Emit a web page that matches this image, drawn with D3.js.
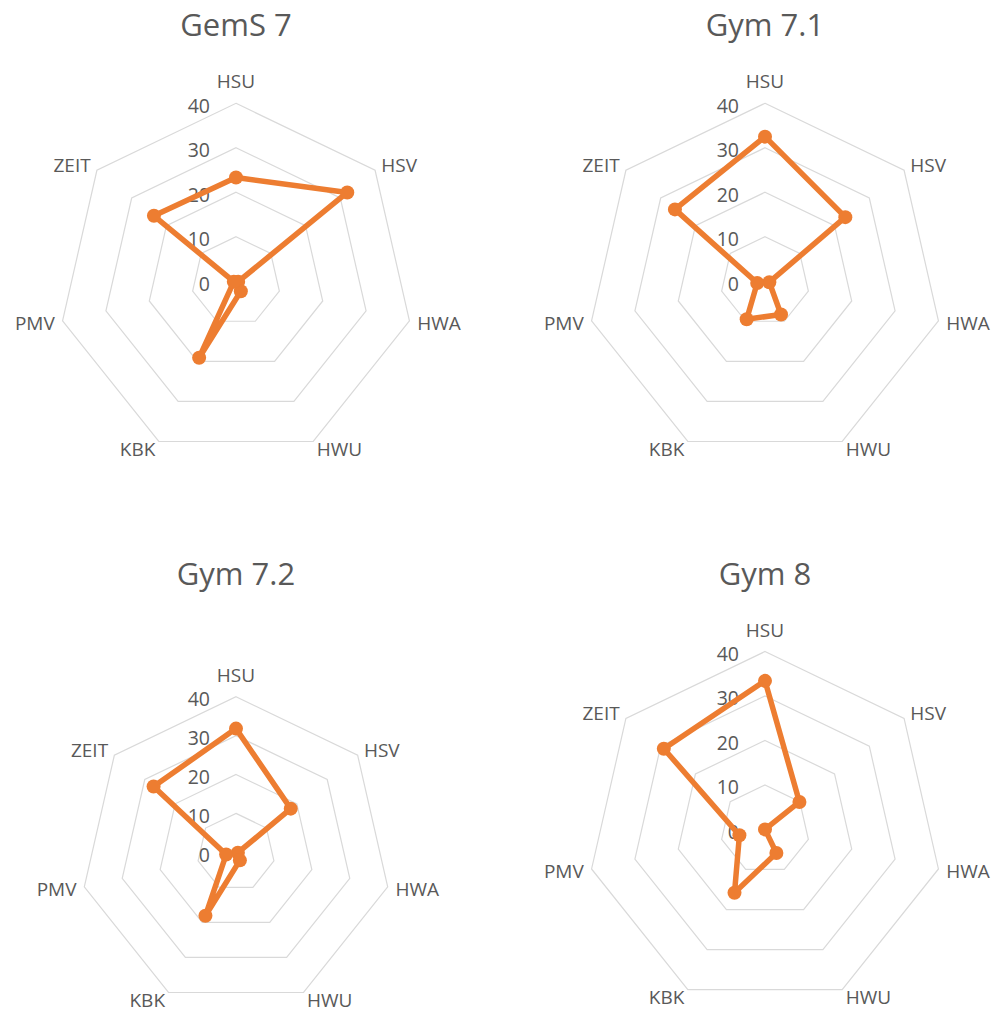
<!DOCTYPE html>
<html>
<head>
<meta charset="utf-8">
<script src="https://cdn.jsdelivr.net/npm/d3@7"></script>
<style>
  html, body { margin: 0; padding: 0; background: #fff; }
  svg { display: block; font-family: "Open Sans", "Noto Sans", sans-serif; }
</style>
</head>
<body>
<svg id="chart" width="1000" height="1012"></svg>
<script>
// Radar categories and value ticks
const axes = ["HSU", "HSV", "HWA", "HWU", "KBK", "PMV", "ZEIT"];
const ticks = [0, 10, 20, 30, 40];
const titles = ["GemS 7", "Gym 7.1", "Gym 7.2", "Gym 8"];

// One series per school type, in axis order
const gems7 = [23.3, 32.0, 0.5, 2.5, 19.1, 0.5, 23.6];
const gym71 = [32.5, 23.1, 1.0, 8.3, 9.5, 1.8, 25.9];
const gym72 = [31.8, 18.0, 0.5, 2.3, 18.1, 2.6, 27.1];
const gym8  = [33.4, 9.9, 0.0, 5.9, 15.8, 5.9, 29.1];
const series = [gems7, gym71, gym72, gym8];

// Panel layout: centre, outer radius and title baseline
const panels = [
  { cx: 236, cy: 281.2, r: 177.9, titleY: 36 },
  { cx: 765, cy: 281.2, r: 177.9, titleY: 36 },
  { cx: 236, cy: 852.3, r: 155.6, titleY: 585 },
  { cx: 765, cy: 829.4, r: 177.9, titleY: 585 }
];

const textColor = "#595959";
const gridColor = "#D9D9D9";
const lineColor = "#ED7D31";

const svg = d3.select("#chart");
const angle = d3.scalePoint().domain(axes).range([0, 2 * Math.PI * (axes.length - 1) / axes.length]);

panels.forEach((p, i) => {
  const values = series[i];
  const r = d3.scaleLinear().domain([0, 40]).range([0, p.r]);
  const g = svg.append("g").attr("transform", `translate(${p.cx},${p.cy})`);

  // Title
  svg.append("text")
    .attr("x", p.cx).attr("y", p.titleY)
    .attr("text-anchor", "middle")
    .attr("fill", textColor)
    .attr("font-size", 31)
    .text(titles[i]);

  // Heptagonal grid rings
  const ring = d3.lineRadial()
    .angle(d => angle(d.axis))
    .radius(d => r(d.v))
    .curve(d3.curveLinearClosed);
  ticks.filter(t => t > 0).forEach(t => {
    g.append("path")
      .attr("d", ring(axes.map(a => ({ axis: a, v: t }))))
      .attr("fill", "none")
      .attr("stroke", gridColor)
      .attr("stroke-width", 1.2);
  });

  // Tick labels along the top axis
  g.selectAll("text.tick")
    .data(ticks)
    .join("text")
    .attr("class", "tick")
    .attr("x", -26)
    .attr("y", d => -r(d) + 2)
    .attr("text-anchor", "end")
    .attr("dominant-baseline", "central")
    .attr("fill", textColor)
    .attr("font-size", 19.5)
    .text(d => d);

  // Category labels outside the outer ring
  g.selectAll("text.axis")
    .data(axes)
    .join("text")
    .attr("class", "axis")
    .each(function (a) {
      const th = angle(a);
      const s = Math.sin(th), c = Math.cos(th);
      const vx = s * p.r, vy = -c * p.r;
      const el = d3.select(this);
      if (Math.abs(s) < 0.1) {
        el.attr("x", vx).attr("y", vy - 15)
          .attr("text-anchor", "middle");
      } else {
        el.attr("x", vx + s * 8).attr("y", vy - c * 8)
          .attr("text-anchor", s > 0 ? "start" : "end")
          .attr("dominant-baseline", "central");
      }
    })
    .attr("fill", textColor)
    .attr("font-size", 19)
    .text(d => d);

  // Series outline and markers
  const pts = axes.map((a, k) => ({ axis: a, v: values[k] }));
  g.append("path")
    .attr("d", ring(pts))
    .attr("fill", "none")
    .attr("stroke", lineColor)
    .attr("stroke-width", 5.5)
    .attr("stroke-linejoin", "round");

  g.selectAll("circle")
    .data(pts)
    .join("circle")
    .attr("cx", d => Math.sin(angle(d.axis)) * r(d.v))
    .attr("cy", d => -Math.cos(angle(d.axis)) * r(d.v))
    .attr("r", 7)
    .attr("fill", lineColor);
});
</script>
</body>
</html>
